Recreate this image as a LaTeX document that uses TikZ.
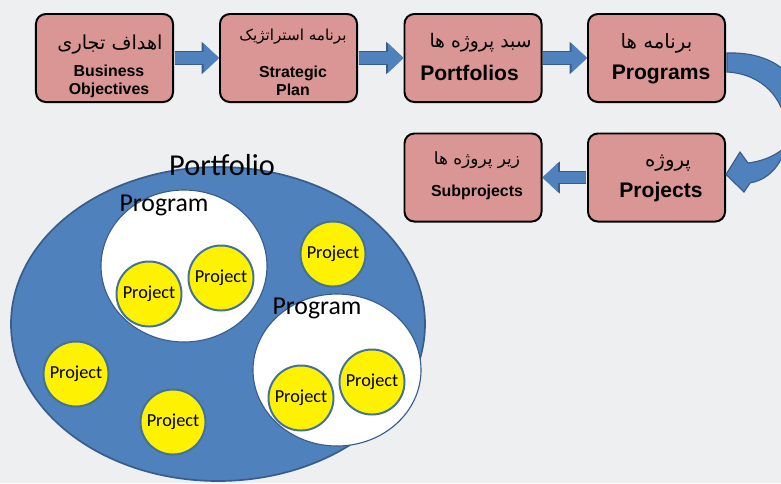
\documentclass[tikz,border=0pt]{standalone}
\usepackage{fontspec}
\setmainfont{Liberation Sans}
\newfontfamily\fafont[Script=Arabic]{DejaVu Sans}
\newfontfamily\calfont{Carlito}
\TeXXeTstate=1
\usetikzlibrary{arrows.meta, calc}

\definecolor{boxpink}{RGB}{217,150,148}
\definecolor{arrowblue}{RGB}{79,129,189}
\definecolor{arrowedge}{RGB}{56,93,138}
\definecolor{projedge}{RGB}{65,113,156}
\definecolor{bgcol}{RGB}{237,239,241}
\newcommand{\fa}[1]{{\fafont\beginR #1\endR}}

\begin{document}
\begin{tikzpicture}[x=0.025cm, y=-0.025cm,
  box/.style={draw=black, line width=1.4pt, fill=boxpink, rounded corners=7pt,
    minimum width=3.425cm, minimum height=2.2cm},
  fatext/.style={font=\fafont\fontsize{#1}{#1}\selectfont},
  fatext/.default=12,
  entext/.style={font=\bfseries\fontsize{11.3}{12.8}\selectfont, align=center},
  bigtext/.style={font=\bfseries\fontsize{15}{17}\selectfont},
  blkarrow/.style={draw=arrowblue, line width=8.5pt, shorten <=0.7pt,
    -{Triangle[width=21pt, length=11pt, line width=0pt]},
    preaction={draw=arrowedge, line width=9.8pt,
      -{Triangle[width=23pt, length=12.4pt, line width=0pt]}}},
  proj/.style={circle, draw=projedge, line width=1.4pt, fill=yellow,
    minimum size=1.625cm, inner sep=0pt, font=\calfont\fontsize{13}{15}\selectfont},
  prg/.style={fill=white, draw=arrowedge, line width=0.8pt},
  prglabel/.style={font=\calfont\fontsize{18.3}{20}\selectfont}]
\useasboundingbox (0,0) rectangle (781,483);
\fill[bgcol] (0,0) rectangle (781,483);

\node[box] (obj) at (104.5,58) {};
\node[box] (strat) at (288.5,58) {};
\node[box] (port) at (473,58) {};
\node[box] (prog) at (656.5,58) {};
\node[box] (proj) at (656.5,177.5) {};
\node[box] (subp) at (473,177.5) {};

\node[fatext=13.7] (objfa) at ($(obj)+(5.5,-13)$) {\fa{اهداف تجاری}};
\node[entext] (objen) at ($(obj)+(4.5,23)$) {Business\\Objectives};
\node[fatext=10.8] (stratfa) at ($(strat)+(4.5,-21)$) {\fa{برنامه استراتژیک}};
\node[entext] (straten) at ($(strat)+(4.5,23)$) {Strategic\\Plan};
\node[fatext=13.3] (portfa) at ($(port)+(7.5,-15)$) {\fa{سبد پروژه ها}};
\node[bigtext] (porten) at ($(port)+(-3.5,15)$) {Portfolios};
\node[fatext=14] (progfa) at ($(prog)+(0,-15)$) {\fa{برنامه ها}};
\node[bigtext] (progen) at ($(prog)+(4.5,16)$) {Programs};
\node[fatext=14] (projfa) at ($(proj)+(11.5,-14.5)$) {\fa{پروژه}};
\node[bigtext] (projen) at ($(proj)+(4.5,14.5)$) {Projects};
\node[fatext] (subpfa) at ($(subp)+(4,-17.5)$) {\fa{زیر پروژه ها}};
\node[entext] (subpen) at ($(subp)+(4,14.5)$) {Subprojects};

\draw[blkarrow] (obj.east) -- (strat.west);
\draw[blkarrow] (strat.east) -- (port.west);
\draw[blkarrow] (port.east) -- (prog.west);
\draw[blkarrow] (proj.west) -- (subp.east);

\coordinate (tipc) at ($(proj.east)+(0,-3)$);
\begin{scope}[shift={(prog.east)}]
\filldraw[fill=arrowblue, draw=arrowedge, line width=0.8pt]
  (1,-5) .. controls (95,-8) and (100,95) .. (22,105) -- (14,94) -- (tipc)
  -- (18,134) -- (24,125) .. controls (78,115) and (74,18) .. (1,14) -- cycle;
\end{scope}

\filldraw[fill=arrowblue, draw=arrowedge, line width=1.2pt] (218,324) ellipse [x radius=207, y radius=157];
\node[font=\calfont\fontsize{21.6}{24}\selectfont] (portlabel) at (222,165) {Portfolio};
\filldraw[prg] (184,266) ellipse [x radius=83, y radius=76];
\filldraw[prg] (337,370) ellipse [x radius=84, y radius=76];
\node[prglabel] (prg1) at (164,205) {Program};
\node[prglabel] (prg2) at (317,308) {Program};

\node[proj] (p1) at (149,294) {Project};
\node[proj] (p2) at (221,278) {Project};
\node[proj] (p3) at (333,254) {Project};
\node[proj] (p4) at (301,398) {Project};
\node[proj] (p5) at (372,382) {Project};
\node[proj] (p6) at (76,374) {Project};
\node[proj] (p7) at (173,422) {Project};
\end{tikzpicture}
\end{document}
